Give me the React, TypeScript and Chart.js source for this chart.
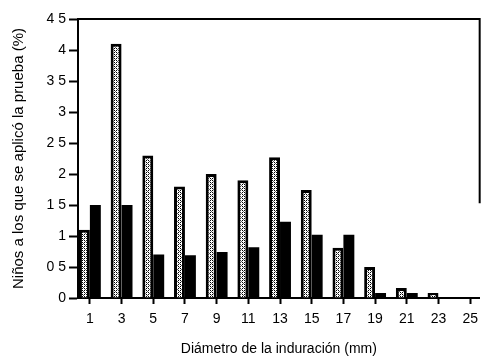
import React, { useEffect, useRef } from "react";
import { Chart, registerables } from "chart.js";

Chart.register(...registerables);

const categories = [1, 3, 5, 7, 9, 11, 13, 15, 17, 19, 21, 23, 25];
const stippledValues = [1.1, 4.1, 2.3, 1.8, 2.0, 1.9, 2.27, 1.74, 0.81, 0.5, 0.16, 0.08, 0];
const blackValues = [1.5, 1.5, 0.7, 0.69, 0.74, 0.82, 1.23, 1.02, 1.02, 0.08, 0.08, 0, 0];
const yTicks = [0, 0.5, 1, 1.5, 2, 2.5, 3, 3.5, 4, 4.5];
const xTitle = "Diámetro de la induración (mm)";
const yTitle = "Niños a los que se aplicó la prueba (%)";

const FONT = "'Liberation Sans Narrow', 'Liberation Sans', Arial, sans-serif";

function makePattern(): CanvasPattern | string {
  const c = document.createElement("canvas");
  c.width = 4;
  c.height = 4;
  const g = c.getContext("2d");
  if (!g) return "#999";
  g.fillStyle = "#ffffff";
  g.fillRect(0, 0, 4, 4);
  g.fillStyle = "#000";
  g.fillRect(0, 0, 1, 1);
  g.fillRect(2, 2, 1, 1);
  g.fillRect(2, 0, 1, 1);
  g.fillRect(0, 2, 1, 1);
  g.fillStyle = "#666";
  g.fillRect(1, 1, 1, 1);
  g.fillRect(3, 3, 1, 1);
  const p = g.createPattern(c, "repeat");
  return p || "#999";
}

const framePlugin = {
  id: "frame",
  afterDraw(chart: any) {
    const { ctx, chartArea } = chart;
    ctx.save();
    ctx.strokeStyle = "#000";
    ctx.lineWidth = 2;
    ctx.beginPath();
    ctx.moveTo(chartArea.left, chartArea.top);
    ctx.lineTo(chartArea.right, chartArea.top);
    ctx.lineTo(chartArea.right, chartArea.top + (chartArea.bottom - chartArea.top) * 0.66);
    ctx.stroke();
    ctx.restore();
  },
};

export default function App() {
  const ref = useRef<HTMLCanvasElement>(null);
  useEffect(() => {
    if (!ref.current) return;
    const pattern = makePattern();
    const chart = new Chart(ref.current, {
      type: "bar",
      data: {
        datasets: [
          {
            label: "A",
            data: categories.map((c, i) => ({ x: c, y: stippledValues[i] })),
            backgroundColor: pattern as any,
            borderColor: "#000",
            borderWidth: 3,
            borderSkipped: "bottom",
            categoryPercentage: 0.69,
            barPercentage: 1,
          },
          {
            label: "B",
            data: categories.map((c, i) => ({ x: c, y: blackValues[i] })),
            backgroundColor: "#000",
            borderWidth: 0,
            categoryPercentage: 0.69,
            barPercentage: 1,
          },
        ],
      },
      options: {
        responsive: false,
        animation: false,
        layout: { padding: { top: 19, right: 2, left: 0, bottom: 0 } },
        plugins: { legend: { display: false }, tooltip: { enabled: false } },
        scales: {
          x: {
            type: "linear",
            min: 0.25,
            max: 25.6,
            offset: false,
            afterBuildTicks: (scale: any) => {
              scale.ticks = categories.map((v) => ({ value: v }));
            },
            afterFit: (scale: any) => {
              scale.height = 64;
            },
            grid: {
              display: true,
              offset: false,
              drawOnChartArea: false,
              drawTicks: true,
              tickLength: 6,
              tickWidth: 2,
              tickColor: "#000",
            },
            border: { display: true, color: "#000", width: 2 },
            ticks: {
              color: "#000",
              font: { family: FONT, size: 14 },
              padding: 7,
              maxRotation: 0,
              autoSkip: false,
              callback: (v: any) => String(v),
            },
            title: {
              display: true,
              text: xTitle,
              color: "#000",
              font: { family: FONT, size: 14 },
              padding: { top: 0, bottom: 4 },
            },
          },
          y: {
            min: 0,
            max: 4.5,
            afterBuildTicks: (scale: any) => {
              scale.ticks = yTicks.map((v) => ({ value: v }));
            },
            afterFit: (scale: any) => {
              scale.width = 78;
            },
            grid: {
              display: true,
              drawOnChartArea: false,
              drawTicks: true,
              tickLength: 9,
              tickWidth: 2,
              tickColor: "#000",
            },
            border: { display: true, color: "#000", width: 2 },
            ticks: {
              color: "#000",
              font: { family: FONT, size: 14 },
              padding: 3,
              callback: (v: any) => String(v).replace(".", " "),
            },
            title: {
              display: true,
              text: yTitle,
              color: "#000",
              font: { family: FONT, size: 15 },
              padding: { top: 10, bottom: 0 },
            },
          },
        },
      },
      plugins: [framePlugin],
    });
    return () => chart.destroy();
  }, []);
  return (
    <div style={{ position: "fixed", left: 0, top: 0, width: 485, height: 362, background: "#fff" }}>
      <canvas ref={ref} width={485} height={362} />
    </div>
  );
}
